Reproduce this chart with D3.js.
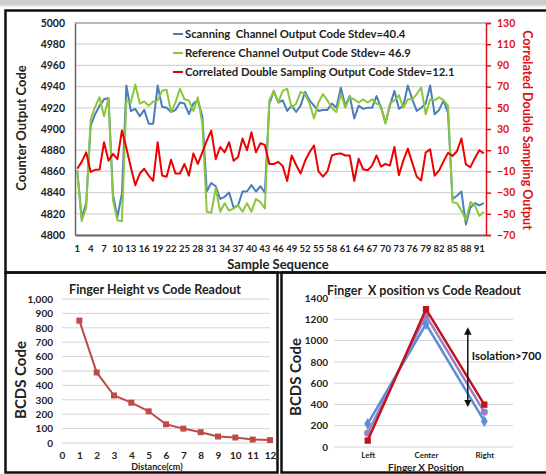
<!DOCTYPE html>
<html>
<head>
<meta charset="utf-8">
<script src="https://cdn.jsdelivr.net/npm/d3@7"></script>
<style>
  body { margin: 0; background: #fff; }
  svg text { font-family: Lato, "Liberation Sans", sans-serif; font-weight: bold; }
</style>
</head>
<body>
<div id="body"></div>
<script>
// ---- data: top chart ----
var sampleNums = d3.range(1, 93);
var scanning = [4861, 4816, 4830, 4903, 4914, 4922, 4928, 4929, 4838, 4817,
  4839, 4941, 4917, 4919, 4912, 4918, 4905, 4905, 4941, 4921,
  4920, 4916, 4918, 4925, 4924, 4914, 4924, 4927, 4912, 4841,
  4849, 4846, 4834, 4836, 4840, 4826, 4828, 4841, 4841, 4847,
  4841, 4846, 4840, 4924, 4936, 4925, 4927, 4917, 4922, 4916,
  4922, 4935, 4927, 4922, 4917, 4918, 4918, 4924, 4920, 4939,
  4922, 4931, 4910, 4922, 4919, 4920, 4920, 4931, 4920, 4906,
  4922, 4936, 4919, 4922, 4941, 4928, 4917, 4920, 4924, 4941,
  4914, 4918, 4927, 4915, 4834, 4837, 4841, 4810, 4826, 4830,
  4828, 4830];
var reference = [4861, 4813, 4826, 4909, 4921, 4930, 4912, 4929, 4833, 4814,
  4813, 4927, 4925, 4942, 4924, 4926, 4922, 4926, 4927, 4936,
  4937, 4916, 4925, 4938, 4928, 4927, 4917, 4930, 4905, 4822,
  4821, 4844, 4822, 4830, 4823, 4825, 4828, 4822, 4830, 4822,
  4834, 4831, 4825, 4927, 4936, 4925, 4936, 4938, 4920, 4924,
  4935, 4933, 4924, 4910, 4925, 4933, 4927, 4920, 4916, 4933,
  4920, 4930, 4928, 4925, 4928, 4925, 4928, 4924, 4922, 4905,
  4924, 4927, 4932, 4920, 4928, 4928, 4933, 4939, 4914, 4928,
  4927, 4930, 4927, 4922, 4831, 4830, 4823, 4814, 4831, 4828,
  4818, 4822];
var cds = [-7.5, -1, 8, -10.5, -8.5, -8.3, 17.5, 0, 6.5, 1.5,
  28.5, 12, -6, -23, -12, -7.5, -14, -19, 17.5, -14,
  -15, 1, -12, -12, -3, -14, 7, -3, 8, 19,
  28.5, 1.5, 13, 8, 17.5, 0, 3.5, 21, 10, 27,
  8, 16.5, 15, -3, -3, -1, -5, -19, 5, -4,
  -12, 0, 8, 14.5, -10, -15, -10, 5, 6.5, 7,
  5, 5, -19, 2, -8, -9, -4.5, 5, -5.5, -3,
  -4.5, 13, -13.5, 0.3, 11.5, -2, -15, -18.5, 7.8, 10.8,
  -14, -9, -0.5, 7.5, 4.5, 9, 21, -3.5, -6, 2.5,
  10, 7];
var leftTicks = [4800, 4820, 4840, 4860, 4880, 4900, 4920, 4940, 4960, 4980, 5000];
var rightTicks = [-70, -50, -30, -10, 10, 30, 50, 70, 90, 110, 130];
var legendLabels = ['Scanning  Channel Output Code Stdev=40.4',
  'Reference Channel Output Code Stdev= 46.9',
  'Correlated Double Sampling Output Code Stdev=12.1'];

// ---- data: finger height ----
var distances = [1, 2, 3, 4, 5, 6, 7, 8, 9, 10, 11, 12];
var heightCodes = [850, 490, 330, 280, 220, 130, 100, 75, 45, 38, 24, 20];
var distanceTicks = [0, 1, 2, 3, 4, 5, 6, 7, 8, 9, 10, 11, 12];
var heightTicks = [0, 100, 200, 300, 400, 500, 600, 700, 800, 900, 1000];

// ---- data: finger x position ----
var positions = ['Left', 'Center', 'Right'];
var posRed = [60, 1295, 398];
var posPurple = [130, 1235, 328];
var posBlue = [218, 1155, 243];
var posTicks = [0, 200, 400, 600, 800, 1000, 1200, 1400];

var svg;

// Make the canvas and the panel frames
function makeCanvas (width, height) {
  svg = d3.select('#body')
    .append('svg')
    .attr('width', width)
    .attr('height', height)
    .style('display', 'block')
    .style('background', '#fff');

  svg.append('rect').attr('x', 0).attr('y', 0).attr('width', width).attr('height', 7).attr('fill', '#cfcfcf');
  svg.append('rect').attr('x', 0).attr('y', 5).attr('width', width).attr('height', 2).attr('fill', '#e6e6e6');

  var frames = [[5.5, 10.5, 545, 262], [5.5, 272.5, 272, 200], [281.5, 272.5, 270, 200]];
  svg.selectAll('rect.frame').data(frames).enter().append('rect')
    .attr('class', 'frame')
    .attr('x', function (d) { return d[0]; })
    .attr('y', function (d) { return d[1]; })
    .attr('width', function (d) { return d[2]; })
    .attr('height', function (d) { return d[3]; })
    .attr('fill', 'none')
    .attr('stroke', '#111')
    .attr('stroke-width', 2.5);
}

// Top chart: scanning / reference / cds
function drawTopChart () {
  var left = 75, right = 486, top = 23, bottom = 235;
  var x = d3.scaleBand().domain(sampleNums).range([left, right]);
  var xc = function (d) { return x(d) + x.bandwidth() / 2; };
  var yL = d3.scaleLinear().domain([4800, 5000]).range([bottom, top]);
  var yR = d3.scaleLinear().domain([-70, 130]).range([bottom, top]);
  var g = svg.append('g');

  // gridlines
  g.selectAll('line.grid').data(leftTicks).enter().append('line')
    .attr('x1', left).attr('x2', right)
    .attr('y1', function (d) { return yL(d); })
    .attr('y2', function (d) { return yL(d); })
    .attr('stroke', function (d) { return d === 5000 ? '#777' : '#d4d4d4'; })
    .attr('stroke-width', 1.2);

  // left axis
  var axL = g.append('g').attr('transform', 'translate(' + left + ',0)')
    .call(d3.axisLeft(yL).tickValues(leftTicks).tickSize(0).tickPadding(10).tickFormat(d3.format('d')));
  axL.select('.domain').attr('stroke', '#666').attr('stroke-width', 1.5);
  axL.selectAll('text').attr('font-size', 10.5).attr('fill', '#222');

  // bottom axis
  var axB = g.append('g').attr('transform', 'translate(0,' + bottom + ')')
    .call(d3.axisBottom(x).tickValues(sampleNums.filter(function (d) { return d % 3 === 1; })).tickSize(0).tickPadding(10));
  axB.select('.domain').attr('stroke', '#666').attr('stroke-width', 2);
  axB.selectAll('text').attr('font-size', 9.5).attr('fill', '#222');

  // right axis
  var axR = g.append('g').attr('transform', 'translate(' + right + ',0)')
    .call(d3.axisRight(yR).tickValues(rightTicks).tickSize(5).tickPadding(6));
  axR.selectAll('.domain, line').attr('stroke', '#e01010').attr('stroke-width', 1.5);
  axR.selectAll('text').attr('font-size', 10.5).attr('fill', '#e01010');

  // series
  var series = [
    { vals: scanning, y: yL, color: '#4a7ebb' },
    { vals: reference, y: yL, color: '#8cc63f' },
    { vals: cds, y: yR, color: '#ee0000' }
  ];
  series.forEach(function (s) {
    var line = d3.line()
      .x(function (d, i) { return xc(sampleNums[i]); })
      .y(function (d) { return s.y(d); });
    g.append('path').datum(s.vals)
      .attr('d', line)
      .attr('fill', 'none')
      .attr('stroke', s.color)
      .attr('stroke-width', 2)
      .attr('stroke-linejoin', 'round');
  });

  // legend
  var leg = g.selectAll('g.leg').data(legendLabels).enter().append('g')
    .attr('transform', function (d, i) { return 'translate(173,' + (34 + i * 19) + ')'; });
  leg.append('line').attr('x1', 0).attr('x2', 10)
    .attr('stroke', function (d, i) { return series[i].color; })
    .attr('stroke-width', 2);
  leg.append('text').attr('x', 12).attr('dy', '0.35em')
    .attr('font-size', 11.3).attr('fill', '#222')
    .style('white-space', 'pre')
    .text(function (d) { return d; });

  // titles
  g.append('text').attr('transform', 'translate(26,128) rotate(-90)')
    .attr('text-anchor', 'middle').attr('font-size', 13).attr('fill', '#222')
    .text('Counter Output Code');
  g.append('text').attr('transform', 'translate(523,130) rotate(90)')
    .attr('text-anchor', 'middle').attr('font-size', 12.5).attr('fill', '#e01010')
    .text('Correlated Double Sampling Output');
  g.append('text').attr('x', 278).attr('y', 269)
    .attr('text-anchor', 'middle').attr('font-size', 13).attr('fill', '#222')
    .text('Sample Sequence');
}

// Bottom left: finger height vs code
function drawHeightChart () {
  var x = d3.scaleLinear().domain([0, 12]).range([62, 270]);
  var y = d3.scaleLinear().domain([0, 1000]).range([443, 299]);
  var g = svg.append('g');

  g.selectAll('line.grid').data(heightTicks).enter().append('line')
    .attr('x1', 62).attr('x2', 270)
    .attr('y1', function (d) { return y(d); })
    .attr('y2', function (d) { return y(d); })
    .attr('stroke', '#d4d4d4').attr('stroke-width', 1);

  var axL = g.append('g').attr('transform', 'translate(62,0)')
    .call(d3.axisLeft(y).tickValues(heightTicks).tickSize(0).tickPadding(9).tickFormat(d3.format(',')));
  axL.select('.domain').remove();
  axL.selectAll('text').attr('font-size', 10).attr('fill', '#222');

  var axB = g.append('g').attr('transform', 'translate(0,449)')
    .call(d3.axisBottom(x).tickValues(distanceTicks).tickSize(0).tickPadding(3));
  axB.select('.domain').remove();
  axB.selectAll('text').attr('font-size', 10).attr('fill', '#222');

  var line = d3.line()
    .x(function (d, i) { return x(distances[i]); })
    .y(function (d) { return y(d); });
  g.append('path').datum(heightCodes).attr('d', line)
    .attr('fill', 'none').attr('stroke', '#be4b48').attr('stroke-width', 2);
  g.selectAll('rect.pt').data(heightCodes).enter().append('rect')
    .attr('x', function (d, i) { return x(distances[i]) - 3; })
    .attr('y', function (d) { return y(d) - 3; })
    .attr('width', 6).attr('height', 6)
    .attr('fill', '#be4b48');

  g.append('text').attr('x', 155).attr('y', 294)
    .attr('text-anchor', 'middle').attr('font-size', 12.5).attr('fill', '#222')
    .text('Finger Height vs Code Readout');
  g.append('text').attr('transform', 'translate(26,380) rotate(-90)')
    .attr('text-anchor', 'middle').attr('font-size', 15).attr('fill', '#222')
    .text('BCDS Code');
  g.append('text').attr('x', 157).attr('y', 470)
    .attr('text-anchor', 'middle').attr('font-size', 9).attr('fill', '#222')
    .text('Distance(cm)');
}

// Bottom right: finger x position vs code
function drawPositionChart () {
  var x = d3.scalePoint().domain(positions).range([367.7, 484.3]);
  var y = d3.scaleLinear().domain([0, 1400]).range([447, 298]);
  var g = svg.append('g');

  g.selectAll('line.grid').data(posTicks).enter().append('line')
    .attr('x1', 334).attr('x2', 513)
    .attr('y1', function (d) { return y(d); })
    .attr('y2', function (d) { return y(d); })
    .attr('stroke', '#d4d4d4').attr('stroke-width', 1);

  var axL = g.append('g').attr('transform', 'translate(334,0)')
    .call(d3.axisLeft(y).tickValues(posTicks).tickSize(0).tickPadding(6).tickFormat(d3.format('d')));
  axL.select('.domain').remove();
  axL.selectAll('text').attr('font-size', 10).attr('fill', '#222');

  var axB = g.append('g').attr('transform', 'translate(0,452)')
    .call(d3.axisBottom(x).tickSize(0).tickPadding(0));
  axB.select('.domain').remove();
  axB.selectAll('text').attr('font-size', 8).attr('font-weight', 'normal').attr('fill', '#222');

  var lines = [
    { vals: posBlue, color: '#5b8fd6', shape: d3.symbolDiamond },
    { vals: posPurple, color: '#9b7fc8', shape: d3.symbolCircle },
    { vals: posRed, color: '#c0141a', shape: d3.symbolSquare }
  ];
  lines.forEach(function (s) {
    var line = d3.line()
      .x(function (d, i) { return x(positions[i]); })
      .y(function (d) { return y(d); });
    g.append('path').datum(s.vals).attr('d', line)
      .attr('fill', 'none').attr('stroke', s.color).attr('stroke-width', 2.5);
    g.selectAll(null).data(s.vals).enter().append('path')
      .attr('d', d3.symbol().type(s.shape).size(40))
      .attr('transform', function (d, i) { return 'translate(' + x(positions[i]) + ',' + y(d) + ')'; })
      .attr('fill', s.color);
  });

  // isolation arrow
  var defs = svg.append('defs');
  defs.append('marker').attr('id', 'ah').attr('viewBox', '0 0 10 10')
    .attr('refX', 5).attr('refY', 5).attr('markerWidth', 5).attr('markerHeight', 5)
    .attr('orient', 'auto-start-reverse')
    .append('path').attr('d', 'M0,0 L10,5 L0,10 z').attr('fill', '#111');
  var ax = x('Right') - 16.5;
  g.append('line').attr('x1', ax).attr('x2', ax)
    .attr('y1', y(1090)).attr('y2', y(410))
    .attr('stroke', '#111').attr('stroke-width', 1.5)
    .attr('marker-start', 'url(#ah)').attr('marker-end', 'url(#ah)');
  g.append('text').attr('x', ax + 4).attr('y', 360)
    .attr('font-size', 11.3).attr('font-weight', 'normal').attr('fill', '#111')
    .text('Isolation>700');

  g.append('text').attr('x', 424).attr('y', 295)
    .attr('text-anchor', 'middle').attr('font-size', 12.5).attr('fill', '#222')
    .style('white-space', 'pre')
    .text('Finger  X position vs Code Readout');
  g.append('text').attr('transform', 'translate(301,377) rotate(-90)')
    .attr('text-anchor', 'middle').attr('font-size', 15).attr('fill', '#222')
    .text('BCDS Code');
  g.append('text').attr('x', 426).attr('y', 471)
    .attr('text-anchor', 'middle').attr('font-size', 10).attr('fill', '#222')
    .text('Finger X Position');
}

function buildFigure () {
  console.log('building figure...');
  makeCanvas(546, 474);
  drawTopChart();
  drawHeightChart();
  drawPositionChart();
}

buildFigure();
</script>
</body>
</html>
